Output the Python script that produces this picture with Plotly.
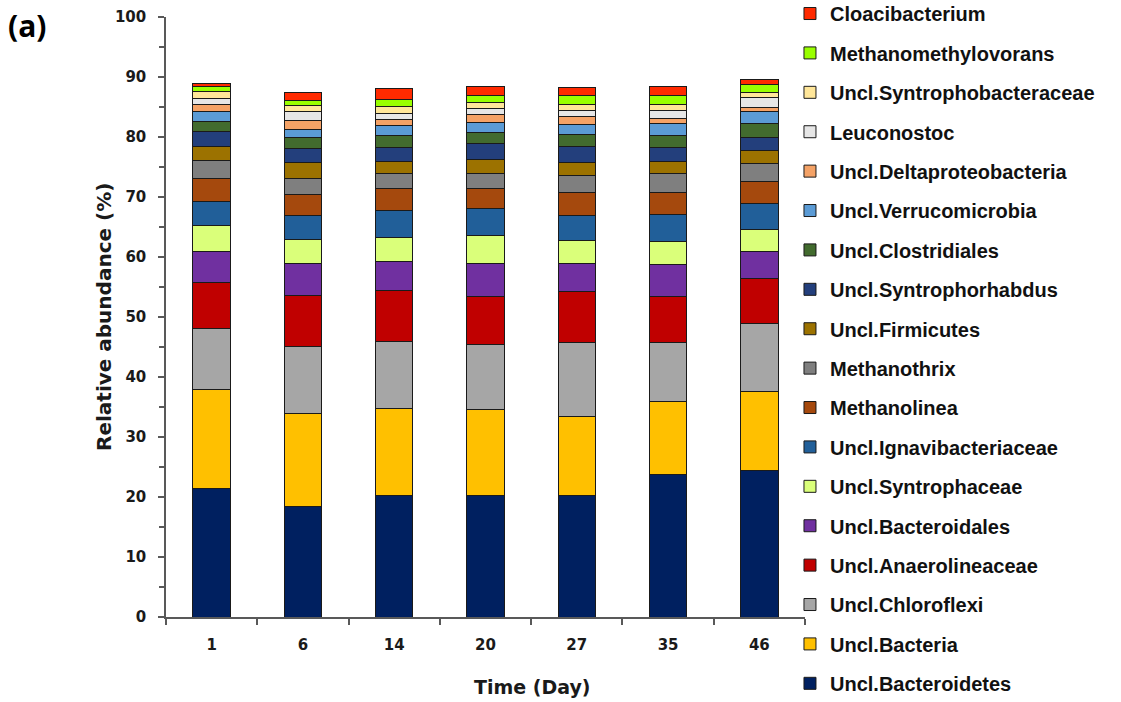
import plotly.graph_objects as go

days = ["1", "6", "14", "20", "27", "35", "46"]

# series listed bottom -> top of the stack
Uncl_Bacteroidetes      = [21.4, 18.4, 20.3, 20.3, 20.3, 23.7, 24.4]
Uncl_Bacteria           = [16.6, 15.6, 14.4, 14.3, 13.1, 12.3, 13.2]
Uncl_Chloroflexi        = [10.1, 11.1, 11.2, 10.9, 12.3, 9.8, 11.3]
Uncl_Anaerolineaceae    = [7.7, 8.5, 8.6, 8.0, 8.6, 7.7, 7.5]
Uncl_Bacteroidales      = [5.2, 5.3, 4.8, 5.5, 4.7, 5.2, 4.5]
Uncl_Syntrophaceae      = [4.2, 4.0, 3.9, 4.6, 3.8, 3.9, 3.7]
Uncl_Ignavibacteriaceae = [4.0, 4.0, 4.6, 4.5, 4.1, 4.5, 4.4]
Methanolinea            = [3.9, 3.5, 3.6, 3.3, 3.9, 3.7, 3.6]
Methanothrix            = [3.0, 2.7, 2.5, 2.6, 2.8, 3.1, 3.0]
Uncl_Firmicutes         = [2.4, 2.7, 2.1, 2.3, 2.2, 2.1, 2.1]
Uncl_Syntrophorhabdus   = [2.4, 2.3, 2.2, 2.7, 2.6, 2.2, 2.2]
Uncl_Clostridiales      = [1.7, 1.8, 2.1, 1.8, 2.0, 2.1, 2.4]
Uncl_Verrucomicrobia    = [1.6, 1.4, 1.6, 1.6, 1.7, 2.0, 1.9]
Uncl_Deltaproteobacteria= [1.2, 1.5, 1.1, 1.4, 1.3, 0.8, 0.8]
Leuconostoc             = [1.1, 1.4, 0.9, 1.0, 1.1, 1.4, 1.6]
Uncl_Syntrophobacteraceae=[1.1, 1.1, 1.2, 1.0, 1.0, 1.0, 0.8]
Methanomethylovorans    = [0.8, 0.8, 1.2, 1.1, 1.5, 1.5, 1.4]
Cloacibacterium         = [0.5, 1.4, 1.8, 1.6, 1.2, 1.5, 0.8]

series = [
    ("Uncl.Bacteroidetes", Uncl_Bacteroidetes, "#002060"),
    ("Uncl.Bacteria", Uncl_Bacteria, "#FFC000"),
    ("Uncl.Chloroflexi", Uncl_Chloroflexi, "#A6A6A6"),
    ("Uncl.Anaerolineaceae", Uncl_Anaerolineaceae, "#C00000"),
    ("Uncl.Bacteroidales", Uncl_Bacteroidales, "#7030A0"),
    ("Uncl.Syntrophaceae", Uncl_Syntrophaceae, "#DAFF7A"),
    ("Uncl.Ignavibacteriaceae", Uncl_Ignavibacteriaceae, "#215F99"),
    ("Methanolinea", Methanolinea, "#A5490D"),
    ("Methanothrix", Methanothrix, "#7F7F7F"),
    ("Uncl.Firmicutes", Uncl_Firmicutes, "#9C7200"),
    ("Uncl.Syntrophorhabdus", Uncl_Syntrophorhabdus, "#233F7C"),
    ("Uncl.Clostridiales", Uncl_Clostridiales, "#426B2E"),
    ("Uncl.Verrucomicrobia", Uncl_Verrucomicrobia, "#5B9BD5"),
    ("Uncl.Deltaproteobacteria", Uncl_Deltaproteobacteria, "#F4A266"),
    ("Leuconostoc", Leuconostoc, "#E6E6E6"),
    ("Uncl.Syntrophobacteraceae", Uncl_Syntrophobacteraceae, "#FFE699"),
    ("Methanomethylovorans", Methanomethylovorans, "#99FF00"),
    ("Cloacibacterium", Cloacibacterium, "#FF2A00"),
]

fig = go.Figure()
for i, (name, vals, col) in enumerate(series):
    fig.add_trace(go.Bar(
        x=days, y=vals, name=name, legendgroup=name, legendrank=1000 - i,
        marker=dict(color=col, line=dict(color="#1a1a1a", width=1)),
    ))

axis_font = dict(family="DejaVu Sans", size=15, color="#1a1a1a", weight="bold")
fig.update_layout(
    width=1121, height=702,
    margin=dict(l=166, r=316, t=17, b=85, autoexpand=False),
    barmode="stack", bargap=0.59,
    plot_bgcolor="white", paper_bgcolor="white",
    legend=dict(
        x=0.9765, xanchor="left", y=1.0383, yanchor="top",
        traceorder="grouped", tracegroupgap=10.4, maxheight=900,
        font=dict(family="Liberation Sans", size=20, color="#111111", weight="bold"),
        bgcolor="rgba(0,0,0,0)",
    ),
    xaxis=dict(
        type="category", showline=True, linecolor="#595959", linewidth=1.5,
        ticks="outside", ticklen=6, tickcolor="#595959", tickwidth=1.5,
        tickson="boundaries", tickfont=axis_font, showgrid=False,
        ticklabelstandoff=13,
    ),
    yaxis=dict(
        range=[0, 100], dtick=10, showline=True, linecolor="#595959", linewidth=1.5,
        ticks="outside", ticklen=6, tickcolor="#595959", tickwidth=1.5,
        minor=dict(dtick=5, ticks="outside", ticklen=5, tickcolor="#595959", tickwidth=1.5),
        tickfont=axis_font, showgrid=False, zeroline=False,
        ticklabelstandoff=9,
    ),
    annotations=[
        dict(text="<b>(a)</b>", x=0, y=1, xref="paper", yref="paper",
             xshift=-166 + 6, yshift=17 - 3, xanchor="left", yanchor="top",
             showarrow=False, font=dict(family="Open Sans", size=30, color="#000")),
        dict(text="<b>Time (Day)</b>", x=(532 - 166) / 639, y=0, xref="paper", yref="paper",
             yshift=-57, xanchor="center", yanchor="top", showarrow=False,
             font=dict(family="DejaVu Sans", size=19, color="#1a1a1a")),
        dict(text="<b>Relative abundance (%)</b>", x=0, y=(617 - 317) / 600, xref="paper", yref="paper",
             xshift=-48, xanchor="right", yanchor="middle", textangle=-90, showarrow=False,
             font=dict(family="DejaVu Sans", size=20, color="#1a1a1a")),
    ],
)

fig.write_html("out.html")
